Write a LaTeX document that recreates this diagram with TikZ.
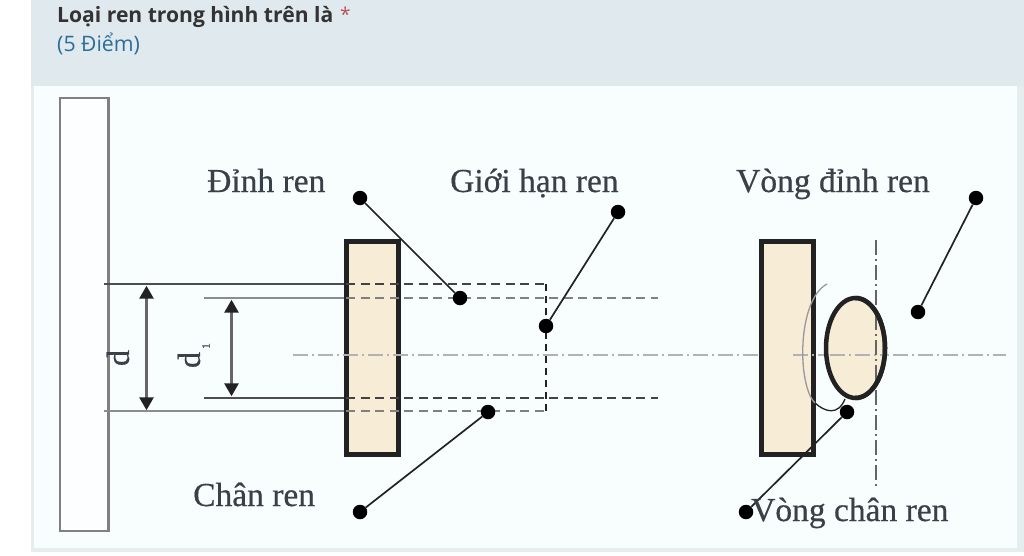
\documentclass[tikz,border=0pt]{standalone}
\usepackage{fontspec}
\setmainfont{Liberation Serif}
\newfontfamily\uifont{Open Sans}
\newfontfamily\lblfont[FakeBold=0.5]{Liberation Serif}
\usetikzlibrary{arrows.meta,shapes.geometric}
\definecolor{hdr}{HTML}{DFE9EE}
\definecolor{panel}{HTML}{F8FDFE}
\definecolor{edge}{HTML}{E6EDEF}
\definecolor{cream}{HTML}{F7ECD5}
\definecolor{ink}{HTML}{222222}
\definecolor{lbl}{HTML}{3A4048}
\definecolor{blue5}{HTML}{2A6F97}
\definecolor{redstar}{HTML}{A4262C}
\tikzset{
  x=1pt,y=-1pt,
  lbltext/.style={font=\lblfont\fontsize{33.5}{33.5}\selectfont,text=lbl,inner sep=0pt},
  dot/.style={circle,fill=black,inner sep=0pt,minimum size=14.5pt},
  leader/.style={draw=ink,line width=1.7pt},
  solidbar/.style={draw=ink!80,line width=2pt},
  solidbarl/.style={draw=black!45,line width=2.5pt},
  hidden/.style={draw=ink!85,line width=2pt,dash pattern=on 9pt off 5.5pt},
  hiddenl/.style={draw=black!50,line width=2.3pt,dash pattern=on 9pt off 5.5pt},
  thick box/.style={draw=ink,line width=5.5pt,fill=cream},
  axis/.style={draw=black!30,line width=2.2pt,dash pattern=on 15pt off 4pt on 2pt off 4pt},
  dim/.style={draw=black!60,line width=2.6pt,{Triangle[length=13pt,width=14pt,color=ink,fill=ink]}-{Triangle[length=13pt,width=14pt,color=ink,fill=ink]}},
}
\begin{document}
\begin{tikzpicture}
\useasboundingbox (0,0) rectangle (1024,556);
\fill[white] (0,0) rectangle (1024,556);
% page panels
\fill[edge] (31,0) rectangle (1024,552);
\fill[hdr] (31,0) rectangle (1024,86);
\fill[panel] (34,86) rectangle (1017,548);
% header
\node[anchor=base west,inner sep=0pt,font=\uifont\bfseries\fontsize{21.1}{21.1}\selectfont,text=black!80] (title) at (57,23) {Loại ren trong hình trên là};
\node[anchor=base west,inner sep=0pt,font=\uifont\fontsize{19}{19}\selectfont,text=redstar!80] (star) at (340,22) {*};
\node[anchor=base west,inner sep=0pt,font=\uifont\fontsize{21.3}{21.3}\selectfont,text=blue5] (score) at (57,52) {(5 Điểm)};
% left plate
\draw[draw=black!50,line width=2.2pt,fill=white!60!panel] (60,98) rectangle (108.5,531);
% centre axis
\node[inner sep=0pt,minimum size=0pt] (axL) at (293,355) {};
\node[inner sep=0pt,minimum size=0pt] (axR) at (1006,355) {};
% solid extension lines
\draw[solidbar] (104,284) -- (346,284);
\draw[solidbarl] (204,298) -- (346,298);
\draw[solidbar] (204,398) -- (346,398);
\draw[solidbarl] (104,411) -- (346,411);
% cross-section rectangle
\node[thick box,minimum width=52pt,minimum height=213pt,inner sep=0pt] (sec) at (372.5,348) {};
\draw[axis] (axL) -- (axR);
% hidden lines
\draw[hidden] (346,284) -- (546,284);
\draw[hiddenl] (346,298) -- (658,298);
\draw[hidden] (346,398) -- (658,398);
\draw[hiddenl] (346,411) -- (546,411);
\draw[draw=ink,line width=1.8pt,dash pattern=on 7pt off 5pt] (546,284) -- (546,411);
% dimensions
\node[inner sep=0pt] (d0a) at (146.5,285) {};
\node[inner sep=0pt] (d0b) at (146.5,411) {};
\node[inner sep=0pt] (d1a) at (231.5,299) {};
\node[inner sep=0pt] (d1b) at (231.5,397) {};
\draw[dim] (d0a) -- (d0b);
\draw[dim] (d1a) -- (d1b);
\node[lbltext,rotate=90,font=\lblfont\fontsize{32}{32}\selectfont] (dlab) at (118,358) {d};
\node[lbltext,rotate=90,font=\lblfont\fontsize{32}{32}\selectfont] (d1lab) at (189,360) {d};
\node[lbltext,rotate=90,font=\lblfont\fontsize{11}{11}\selectfont] (d1sub) at (206,346) {1};
% labels
\node[lbltext,anchor=base west] (a) at (207,192) {Đỉnh ren};
\node[lbltext,anchor=base west] (b) at (450,192) {Giới hạn ren};
\node[lbltext,anchor=base west] (c) at (736,192) {Vòng đỉnh ren};
\node[lbltext,anchor=base west] (e) at (193,506) {Chân ren};
% right view
\node[thick box,minimum width=52pt,minimum height=213pt,inner sep=0pt] (sec2) at (787.5,348) {};
\draw[axis] (793,355) -- (832,355);
\draw[draw=black!40,line width=1.3pt] (827,284) .. controls (797,300) and (797,385) .. (815,403);
\draw[draw=ink,line width=1.3pt] (815,403) .. controls (825,412) and (838,416) .. (845,399);
\node[ellipse,draw=ink,line width=4.5pt,fill=cream,inner sep=0pt,minimum width=59pt,minimum height=100pt] (ell) at (855.5,348) {};
\draw[axis] (830,355) -- (884,355);
\draw[draw=ink!70,line width=2.2pt,dash pattern=on 15pt off 4pt on 2pt off 4pt] (876,240) -- (876,486);
\draw[draw=ink,line width=4.5pt] (855.5,298) arc[start angle=90,end angle=-90,x radius=29.5,y radius=-50];
% dots
\node[dot] (p1) at (360,198) {};
\node[dot] (p2) at (460,298) {};
\node[dot] (p3) at (618,212) {};
\node[dot] (p4) at (546,326) {};
\node[dot] (p5) at (976,198) {};
\node[dot] (p6) at (918,312) {};
\node[dot] (p7) at (488,412) {};
\node[dot] (p8) at (360,512) {};
\node[dot] (p9) at (847,412) {};
\node[dot] (p10) at (746,512) {};
\draw[leader] (p1) -- (p2);
\draw[leader] (p3) -- (p4);
\draw[leader] (p5) -- (p6);
\draw[leader] (p7) -- (p8);
\draw[leader] (p9) -- (p10);
\node[lbltext,anchor=base west] (f) at (751,521) {Vòng chân ren};
\end{tikzpicture}
\end{document}
